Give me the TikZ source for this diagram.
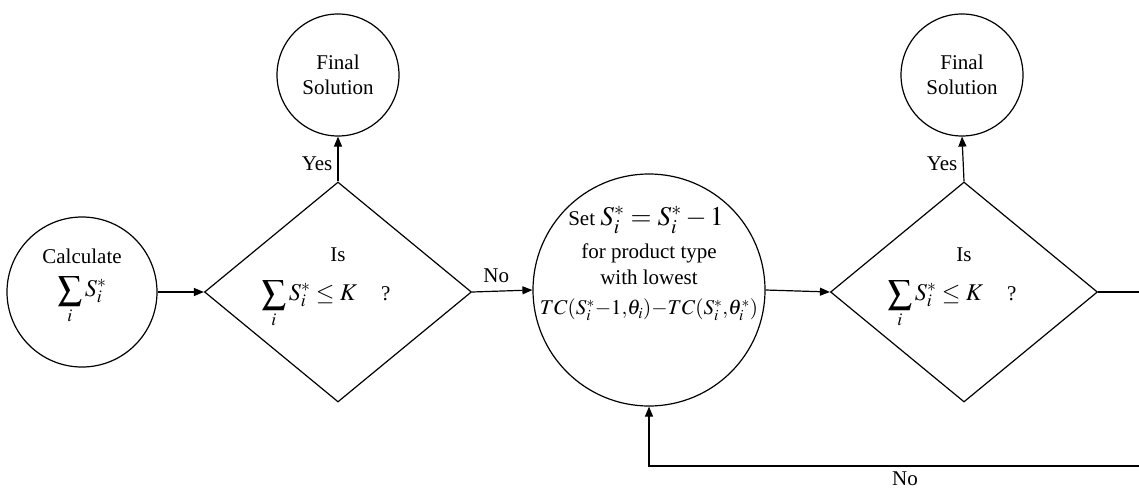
\documentclass[tikz,border=0pt]{standalone}
\usepackage{mathptmx}
\usepackage[no-math]{fontspec}
\setmainfont{Liberation Serif}
\usetikzlibrary{shapes.geometric,arrows.meta,calc}

\newcommand{\bigmath}{\fontsize{24}{28}\selectfont}
\begin{document}
\begin{tikzpicture}[x=1pt,y=-1pt,
  every node/.style={font=\fontsize{21}{25}\selectfont},
  proc/.style={draw,circle,line width=1.2pt,inner sep=0pt,align=center},
  test/.style={draw,diamond,line width=1.2pt,inner sep=0pt,
               minimum width=267pt,minimum height=220pt},
  txt/.style={inner sep=1pt,align=center},
  link/.style={line width=1.2pt},
  flow/.style={link,-{Triangle[length=10pt,width=8pt]}}]
\useasboundingbox (0,0) rectangle (1139,490);

% start: sum of base-stock levels
\node[proc,minimum size=150pt] (calc) at (82,292) {};
\node[txt] (calcA) at (82,256) {Calculate};
\node[txt] (calcB) at (82,300) {\bigmath$\displaystyle\sum_i S_i^*$};

% first capacity check
\node[test] (d1) at (338,292) {};
\node[txt] (d1a) at (338,255) {Is};
\node[txt] (d1b) at (326,304) {\bigmath$\displaystyle\sum_i S_i^* \le K$\quad{\fontsize{21}{25}\selectfont ?}};
\node[proc,minimum size=122pt] (fs1) at (338,75) {Final\\Solution};

% reduction step
\node[proc,minimum size=232pt] (set) at (649,290) {};
\node[txt] (setA) at (646,220) {Set {\fontsize{27}{30}\selectfont$S_i^* = S_i^* - 1$}};
\node[txt] (setB) at (649,253) {for product type};
\node[txt] (setC) at (649,277) {with lowest};
\node[txt] (setD) at (649,310) {\fontsize{21}{25}\selectfont\medmuskip=0mu\thinmuskip=0mu$TC(S_i^*-1,\theta_i)-TC(S_i^*,\theta_i^*)$};

% second capacity check
\node[test] (d2) at (964,292) {};
\node[txt] (d2a) at (964,255) {Is};
\node[txt] (d2b) at (952,304) {\bigmath$\displaystyle\sum_i S_i^* \le K$\quad{\fontsize{21}{25}\selectfont ?}};
\node[proc,minimum size=122pt] (fs2) at (962,75) {Final\\Solution};

% connectors
\coordinate (outR) at (1139,292);
\coordinate (loopR) at (1139,466);
\draw[flow] (calc) -- (d1.west);
\draw[flow] (d1.north) -- (fs1.south) node[midway,left,txt,xshift=-4pt,yshift=-5pt] (y1) {Yes};
\draw[flow] (d1.east) -- (set.west) node[midway,above,txt,yshift=7pt,xshift=-6pt] (n1) {No};
\draw[flow] (set.east) -- (d2.west);
\draw[flow] (d2.north) -- (fs2.south) node[midway,left,txt,xshift=-4pt,yshift=-5pt] (y2) {Yes};
\draw[link] (d2.east) -- (outR);
\draw[flow] (loopR) -- (set.south |- loopR) -- (set.south);
\node[txt] (n2) at (905,479) {No};
\end{tikzpicture}
\end{document}
